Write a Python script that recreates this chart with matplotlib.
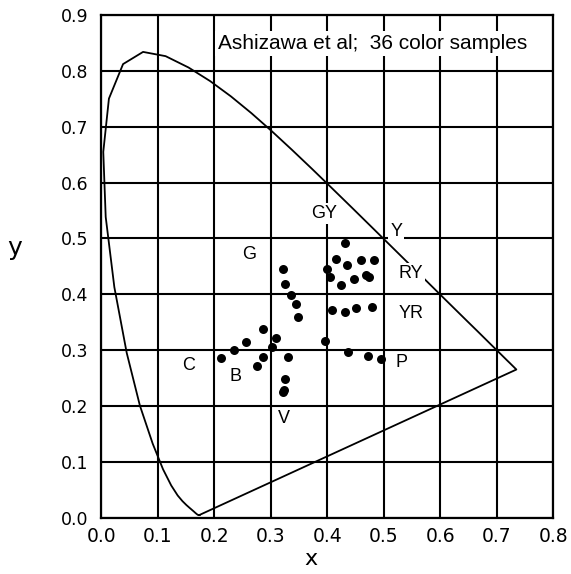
import numpy as np
import matplotlib.pyplot as plt

plt.rcParams['font.family'] = ['Liberation Sans', 'DejaVu Sans']

# CIE 1931 spectral locus, 380-660 nm then the red end (700 nm)
locus_x = [0.1741, 0.1740, 0.1738, 0.1736, 0.1733, 0.1730, 0.1726, 0.1721, 0.1714, 0.1703,
           0.1689, 0.1669, 0.1644, 0.1611, 0.1566, 0.1510, 0.1440, 0.1355, 0.1241, 0.1096,
           0.0913, 0.0687, 0.0454, 0.0235, 0.0082, 0.0039, 0.0139, 0.0389, 0.0743, 0.1142,
           0.1547, 0.1929, 0.2296, 0.2658, 0.3016, 0.3373, 0.3731, 0.4087, 0.4441, 0.4788,
           0.5125, 0.5448, 0.5752, 0.6029, 0.6270, 0.6482, 0.6658, 0.6801, 0.6915, 0.7006,
           0.7079, 0.7140, 0.7190, 0.7230, 0.7260, 0.7283, 0.7300, 0.7347]
locus_y = [0.0050, 0.0050, 0.0049, 0.0049, 0.0048, 0.0048, 0.0048, 0.0048, 0.0051, 0.0058,
           0.0069, 0.0086, 0.0109, 0.0138, 0.0177, 0.0227, 0.0297, 0.0399, 0.0578, 0.0868,
           0.1327, 0.2007, 0.2950, 0.4127, 0.5384, 0.6548, 0.7502, 0.8120, 0.8338, 0.8262,
           0.8059, 0.7816, 0.7543, 0.7243, 0.6923, 0.6589, 0.6245, 0.5896, 0.5547, 0.5202,
           0.4866, 0.4544, 0.4242, 0.3965, 0.3725, 0.3514, 0.3340, 0.3197, 0.3083, 0.2993,
           0.2920, 0.2859, 0.2809, 0.2770, 0.2740, 0.2717, 0.2700, 0.2653]

# 36 colour samples (x, y)
sample_x = [0.432, 0.415, 0.435, 0.459, 0.482, 0.400, 0.405, 0.424, 0.448, 0.468,
            0.474, 0.321, 0.325, 0.336, 0.345, 0.348, 0.409, 0.432, 0.451, 0.479,
            0.397, 0.286, 0.256, 0.235, 0.212, 0.310, 0.303, 0.287, 0.275, 0.331,
            0.326, 0.321, 0.323, 0.437, 0.472, 0.496]
sample_y = [0.491, 0.464, 0.453, 0.462, 0.462, 0.446, 0.431, 0.416, 0.427, 0.435,
            0.431, 0.446, 0.419, 0.398, 0.383, 0.360, 0.372, 0.368, 0.376, 0.378,
            0.316, 0.337, 0.314, 0.301, 0.286, 0.322, 0.305, 0.287, 0.271, 0.287,
            0.249, 0.225, 0.229, 0.296, 0.289, 0.284]

# hue region labels
hue_names = ["GY", "Y", "G", "RY", "YR", "C", "P", "B", "V"]
hue_x = [0.395, 0.522, 0.262, 0.548, 0.548, 0.155, 0.531, 0.238, 0.323]
hue_y = [0.545, 0.512, 0.472, 0.437, 0.366, 0.273, 0.277, 0.253, 0.178]

ticks_x = np.arange(0, 0.81, 0.1)
ticks_y = np.arange(0, 0.91, 0.1)

fig = plt.figure(figsize=(5.71, 5.74), dpi=100)
ax = fig.add_axes([0.177, 0.098, 0.792, 0.876])

ax.set_xlim(0, 0.8)
ax.set_ylim(0, 0.9)
ax.set_xticks(ticks_x)
ax.set_yticks(ticks_y)
ax.set_xticklabels(["%.1f" % v for v in ticks_x], family="DejaVu Sans", fontsize=13.5)
ax.set_yticklabels(["%.1f" % v for v in ticks_y], family="DejaVu Sans", fontsize=12.5)
ax.tick_params(length=0)
ax.tick_params(axis="x", pad=7)
ax.tick_params(axis="y", pad=9)
ax.grid(True, color="black", linewidth=1.5)
ax.set_axisbelow(True)
for s in ax.spines.values():
    s.set_linewidth(1.6)

# spectral locus + purple line
ax.plot(locus_x + [locus_x[0]], locus_y + [locus_y[0]], color="black", linewidth=1.3, zorder=3)

ax.scatter(sample_x, sample_y, s=42, color="black", zorder=4, linewidths=0)

for name, hx, hy in zip(hue_names, hue_x, hue_y):
    ax.text(hx, hy, name, fontsize=13, ha="center", va="center", zorder=5,
            bbox=dict(facecolor="white", edgecolor="none", pad=1.5))

ax.text(0.207, 0.849, "Ashizawa et al;  36 color samples", fontsize=15, ha="left",
        va="center", zorder=5, bbox=dict(facecolor="white", edgecolor="none", pad=2))

ax.set_xlabel("x", fontsize=16, family="DejaVu Sans", va="center")
ax.set_ylabel("y", fontsize=18, family="DejaVu Sans", rotation=0, ha="center", va="center")
ax.xaxis.set_label_coords(0.464, -0.083)
ax.yaxis.set_label_coords(-0.192, 0.537)

fig.savefig("out.png", dpi=100, facecolor="white")
